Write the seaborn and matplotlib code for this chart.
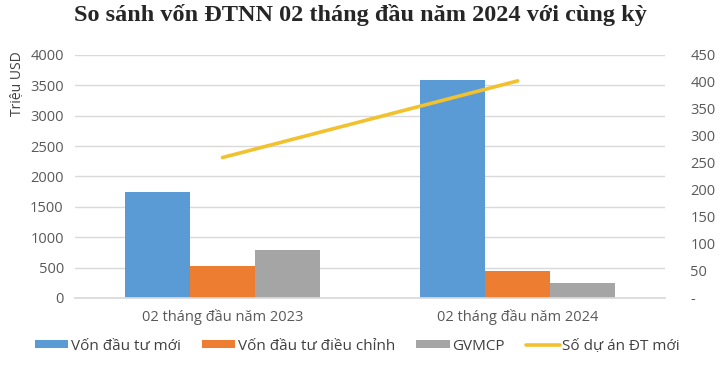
import matplotlib.pyplot as plt
import seaborn as sns
import pandas as pd
from matplotlib.patches import Patch
from matplotlib.lines import Line2D

# Data
periods = ["02 tháng đầu năm 2023", "02 tháng đầu năm 2024"]
series = ["Vốn đầu tư mới", "Vốn đầu tư điều chỉnh", "GVMCP"]
von_moi = [1750, 3590]
von_dieu_chinh = [520, 435]
gvmcp = [790, 240]
so_du_an = [260, 402]
line_label = "Số dự án ĐT mới"

colors = ["#5B9BD5", "#ED7D31", "#A5A5A5"]
line_color = "#F2C12E"
text_color = "#595959"

df = pd.DataFrame({
    "period": periods * 3,
    "series": [s for s in series for _ in periods],
    "value": von_moi + von_dieu_chinh + gvmcp,
})

sns.set_theme(style="white")
plt.rcParams["font.family"] = ["Open Sans", "DejaVu Sans"]

fig = plt.figure(figsize=(7.2, 3.79), dpi=100)
ax = fig.add_axes([0.104, 0.214, 0.82, 0.641])

sns.barplot(data=df, x="period", y="value", hue="series", hue_order=series,
            palette=colors, width=0.66, gap=0, saturation=1, linewidth=0,
            ax=ax, legend=False)
ax.set_xlim(-0.5, 1.5)
ax.set_ylim(0, 4000)
ax.set_yticks(range(0, 4001, 500))
ax.yaxis.grid(True, color="#D9D9D9", linewidth=1)
ax.set_axisbelow(True)
for s in ["top", "right", "left"]:
    ax.spines[s].set_visible(False)
ax.spines["bottom"].set_color("#D9D9D9")
ax.tick_params(axis="both", length=0, labelsize=10.5, colors=text_color, pad=8)
ax.set_xlabel("")
ax.set_ylabel("Triệu USD", fontsize=10, color="#404040", labelpad=8)
ax.yaxis.set_label_coords(-0.085, 0.88)

ax2 = ax.twinx()
sns.lineplot(x=[0, 1], y=so_du_an, color=line_color, linewidth=2.6, ax=ax2)
ax2.set_ylim(0, 450)
ax2.set_yticks(range(0, 451, 50))
ax2.set_yticklabels(["-"] + [str(v) for v in range(50, 451, 50)])
for s in ["top", "right", "left", "bottom"]:
    ax2.spines[s].set_visible(False)
ax2.tick_params(axis="y", length=0, labelsize=10.5, colors=text_color, pad=18)
ax2.set_ylabel("")

fig.suptitle("So sánh vốn ĐTNN 02 tháng đầu năm 2024 với cùng kỳ",
             fontsize=17.5, fontweight="bold", family="Liberation Serif", y=0.99)

handles = [Patch(facecolor=c, edgecolor="none") for c in colors]
handles.append(Line2D([0], [0], color=line_color, linewidth=2.6))
fig.legend(handles, series + [line_label], loc="center", ncol=4,
           bbox_to_anchor=(0.496, 0.087), frameon=False, fontsize=11,
           handlelength=2.2, handleheight=0.35, columnspacing=1.4,
           handletextpad=0.15, labelcolor="#404040")

fig.savefig("out.png", dpi=100)
